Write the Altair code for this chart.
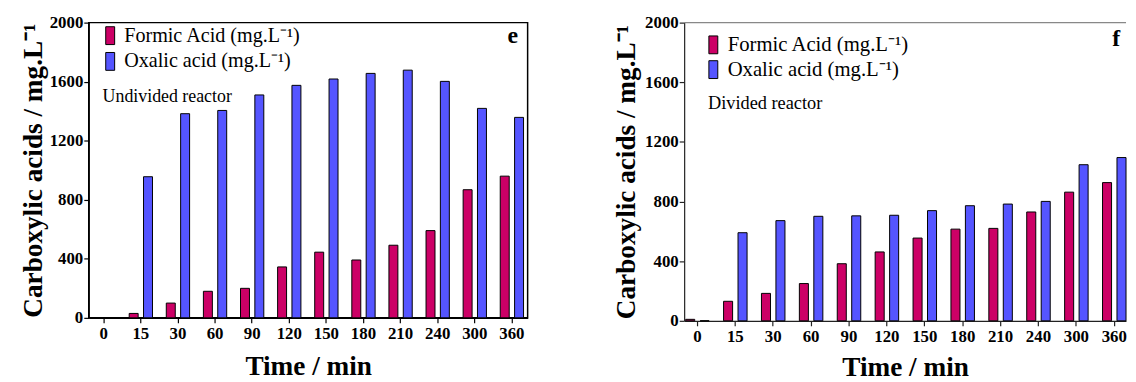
import altair as alt
import pandas as pd

times = ["0", "15", "30", "60", "90", "120", "150", "180", "210", "240", "300", "360"]
acids = ["Formic Acid (mg.L⁻¹)", "Oxalic acid (mg.L⁻¹)"]
formic_e = [0, 30, 100, 180, 200, 345, 445, 392, 492, 591, 868, 960]
oxalic_e = [0, 956, 1383, 1405, 1510, 1575, 1618, 1656, 1678, 1602, 1419, 1358]
formic_f = [10, 131, 184, 250, 383, 462, 555, 615, 620, 730, 863, 927]
oxalic_f = [0, 591, 672, 701, 704, 708, 739, 772, 783, 801, 1047, 1095]
y_ticks = [0, 400, 800, 1200, 1600, 2000]
colors = ["#CC0066", "#5555FF"]

FONT = "Liberation Serif"


def frame(formic, oxalic):
    rows = []
    for t, f, o in zip(times, formic, oxalic):
        rows.append({"time": t, "acid": acids[0], "value": f})
        rows.append({"time": t, "acid": acids[1], "value": o})
    return pd.DataFrame(rows)


def panel(df, pin, pout, align, legend_x, legend_y, legend_size, row_pad,
          note, note_x, note_y, note_size, letter, letter_x, letter_y,
          axis_color, title_pad, x_title_pad):
    bars = alt.Chart(df).mark_bar(stroke="black", strokeWidth=1).encode(
        x=alt.X("time:N", sort=times,
                scale=alt.Scale(paddingInner=pin, paddingOuter=pout, align=align, round=False),
                axis=alt.Axis(title="Time / min", labelAngle=0, labelFont=FONT,
                              labelFontWeight="bold", labelFontSize=17, labelColor="black",
                              titleFont=FONT, titleFontWeight="bold", titleFontSize=27.5,
                              titleColor="black", titlePadding=x_title_pad, tickSize=5,
                              tickColor=axis_color, domainColor=axis_color, labelPadding=3,
                              domainWidth=1.2, tickWidth=1.2)),
        xOffset=alt.XOffset("acid:N", sort=acids,
                            scale=alt.Scale(paddingInner=0.375, paddingOuter=0, round=False)),
        y=alt.Y("value:Q", scale=alt.Scale(domain=[0, 2000], nice=False),
                axis=alt.Axis(title="Carboxylic acids / mg.L⁻¹", values=y_ticks, grid=False,
                              format="d",
                              labelFont=FONT, labelFontWeight="bold", labelFontSize=17,
                              labelColor="black", titleFont=FONT, titleFontWeight="bold",
                              titleFontSize=27.5, titleColor="black", titlePadding=title_pad,
                              tickSize=5, labelPadding=1, tickColor=axis_color,
                              domainColor=axis_color, domainWidth=1.2, tickWidth=1.2)),
        color=alt.Color("acid:N", sort=acids,
                        scale=alt.Scale(domain=acids, range=colors),
                        legend=alt.Legend(orient="none", legendX=legend_x, legendY=legend_y,
                                          title=None, padding=0,
                                          symbolType="M-0.5,-1H0.5V1H-0.5Z",
                                          symbolSize=324, symbolStrokeColor="black",
                                          symbolStrokeWidth=1, symbolOpacity=1,
                                          labelFont=FONT, labelFontSize=legend_size,
                                          labelColor="black", labelLimit=0,
                                          labelOffset=4, rowPadding=row_pad)),
    )
    note_txt = alt.Chart(pd.DataFrame({"t": [note]})).mark_text(
        font=FONT, fontSize=note_size, align="left", baseline="alphabetic", color="black"
    ).encode(text="t:N", x=alt.value(note_x), y=alt.value(note_y))
    letter_txt = alt.Chart(pd.DataFrame({"t": [letter]})).mark_text(
        font=FONT, fontSize=24, fontWeight="bold", align="center", baseline="alphabetic",
        color="black"
    ).encode(text="t:N", x=alt.value(letter_x), y=alt.value(letter_y))
    return bars, note_txt, letter_txt


W1, H1 = 443, 298
W2, H2 = 446, 301

b1, n1, l1 = panel(frame(formic_e, oxalic_e), 0.372, 0.1, 0.45,
                   11.5, 3, 20.3, 3, "Undivided reactor", 14, 80, 18,
                   "e", 428, 21, "black", 2, 11)
left = alt.layer(b1, n1, l1).properties(
    width=W1, height=H1,
    view=alt.ViewBackground(stroke="black", strokeWidth=1.5))

b2, n2, l2 = panel(frame(formic_f, oxalic_f), 0.38, 0.02, 1.0,
                   19, 12, 20.9, 2, "Divided reactor", 24, 87, 18.5,
                   "f", 436, 24, "#222222", 4, 9)
top_line = alt.Chart(pd.DataFrame({"t": [0]})).mark_rule(color="#888888", strokeWidth=1.5).encode(
    x=alt.value(0), x2=alt.value(W2), y=alt.value(0))
right = alt.layer(b2, n2, l2, top_line).properties(
    width=W2, height=H2,
    view=alt.ViewBackground(stroke="transparent"))

chart = alt.hconcat(left, right, spacing=158, bounds="flush").resolve_scale(
    color="independent", xOffset="independent"
).resolve_legend(color="independent").properties(
    padding={"left": 10.5, "top": 3, "right": 0, "bottom": 0}
).configure(font=FONT)

chart.save("out.html", embed_options={"renderer": "svg", "actions": False})
